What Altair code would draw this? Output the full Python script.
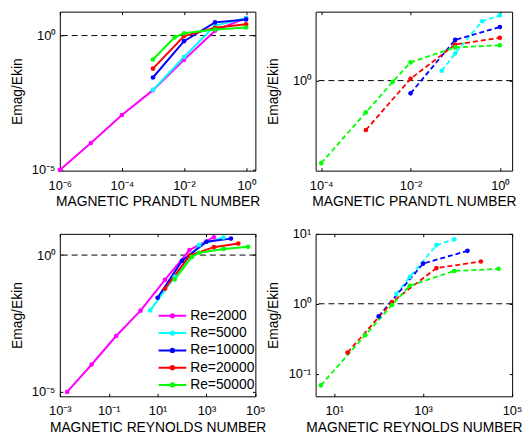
import altair as alt
import pandas as pd

# ---------------- data ----------------
series_names = ["Re=2000", "Re=5000", "Re=10000", "Re=20000", "Re=50000"]
re_numbers = [2000, 5000, 10000, 20000, 50000]
series_colors = ["#ff00ff", "#00ffff", "#0000ff", "#ff0000", "#00ff00"]

# left column (solid lines): magnetic Prandtl number and Emag/Ekin
pm_solid_2000 = [1e-6, 1e-5, 1e-4, 1e-3, 1e-2, 1e-1, 1.0]
em_solid_2000 = [1.0e-5, 1.0e-4, 1.1e-3, 9.3e-3, 0.125, 1.52, 4.5]
pm_solid_5000 = [1e-3, 1e-2, 1e-1, 1.0]
em_solid_5000 = [9.5e-3, 0.16, 2.35, 4.4]
pm_solid_10000 = [1e-3, 1e-2, 1e-1, 1.0]
em_solid_10000 = [0.0275, 0.62, 3.1, 4.0]
pm_solid_20000 = [1e-3, 1e-2, 1e-1, 1.0]
em_solid_20000 = [0.059, 0.955, 1.95, 2.65]
pm_solid_50000 = [1e-3, 5e-3, 1e-2, 1e-1, 1.0]
em_solid_50000 = [0.129, 0.86, 1.22, 1.68, 2.0]

# right column (dashed lines)
pm_dash_5000 = [0.05, 0.1, 0.4, 1.0]
em_dash_5000 = [1.38, 2.42, 6.9, 8.36]
pm_dash_10000 = [1e-2, 1e-1, 1.0]
em_dash_10000 = [0.66, 3.76, 5.73]
pm_dash_20000 = [1e-3, 1e-2, 1e-1, 1.0]
em_dash_20000 = [0.2, 1.06, 3.24, 4.03]
pm_dash_50000 = [1e-4, 1e-3, 4e-3, 1e-2, 1e-1, 1.0]
em_dash_50000 = [0.068, 0.355, 0.96, 1.81, 2.95, 3.16]

ref_level = [1.0]

# tick values
xticks_tl = [1e-6, 1e-4, 1e-2, 1.0]
yticks_tl = [1e-5, 1.0]
xticks_tr = [1e-4, 1e-2, 1.0]
yticks_tr = [1.0]
xticks_bl = [1e-3, 1e-1, 1e1, 1e3, 1e5]
yticks_bl = [1e-5, 1.0]
xticks_br = [1e1, 1e3, 1e5]
yticks_br = [1e-1, 1.0, 1e1]


def build(groups, use_rm):
    rows = []
    for name, pm, em in groups:
        re = re_numbers[series_names.index(name)]
        for p, v in zip(pm, em):
            rows.append({"series": name, "x": p * re if use_rm else p, "y": v})
    return pd.DataFrame(rows)


solid_groups = [
    ("Re=2000", pm_solid_2000, em_solid_2000),
    ("Re=5000", pm_solid_5000, em_solid_5000),
    ("Re=10000", pm_solid_10000, em_solid_10000),
    ("Re=20000", pm_solid_20000, em_solid_20000),
    ("Re=50000", pm_solid_50000, em_solid_50000),
]
dash_groups = [
    ("Re=5000", pm_dash_5000, em_dash_5000),
    ("Re=10000", pm_dash_10000, em_dash_10000),
    ("Re=20000", pm_dash_20000, em_dash_20000),
    ("Re=50000", pm_dash_50000, em_dash_50000),
]

df_tl = build(solid_groups, False)
df_bl = build(solid_groups, True)
df_tr = build(dash_groups, False)
df_br = build(dash_groups, True)
ref_df = pd.DataFrame({"y": ref_level})

FONT = "Liberation Sans"
SUP = "['\u2070','\u00b9','\u00b2','\u00b3','\u2074','\u2075','\u2076','\u2077','\u2078','\u2079']"
LABEL_EXPR = ("'10' + (round(log(datum.value)/LN10) < 0 ? '\u207b' : '') + "
              + SUP + "[abs(round(log(datum.value)/LN10))]")

# legend glyph: a line segment with a dot in the middle (wider than the unit box)
LEG_PATH = "M-2,0H2M0.24,0A0.24,0.24,0,1,1,-0.24,0A0.24,0.24,0,1,1,0.24,0Z"
TICK = 3


def x_axis(vals, title):
    return alt.Axis(values=vals, labelExpr=LABEL_EXPR, title=title, grid=False,
                    ticks=True, tickSize=TICK, offset=-TICK, tickColor="black", tickWidth=1,
                    domain=False, labelPadding=18.6,
                    labelBaseline="alphabetic", labelFontSize=13, labelFont=FONT,
                    labelColor="black", labelFlush=False, labelOverlap=False,
                    titleY=35.6 + TICK, titleBaseline="alphabetic", titleFontSize=14,
                    titleFont=FONT, titleFontWeight="normal", titleColor="black")


def y_axis(vals):
    return alt.Axis(values=vals, labelExpr=LABEL_EXPR, title="Emag/Ekin", grid=False,
                    ticks=True, tickSize=TICK, offset=-TICK, tickColor="black", tickWidth=1,
                    domain=False, labelPadding=5,
                    labelFontSize=13, labelFont=FONT, labelColor="black",
                    labelFlush=False, labelOverlap=False,
                    titleX=-38.6 - TICK, titleBaseline="alphabetic", titleFontSize=14,
                    titleFont=FONT, titleFontWeight="normal", titleColor="black")


def mirror_axis(vals, orient):
    return alt.Axis(values=vals, orient=orient, labels=False, title=None, grid=False,
                    ticks=True, tickSize=TICK, offset=-TICK, tickColor="black", tickWidth=1,
                    domain=False)


def panel(df, xdom, ydom, xticks, yticks, xtitle, w, h, dashed, legend):
    xs = alt.Scale(type="log", domain=xdom, nice=False)
    ys = alt.Scale(type="log", domain=ydom, nice=False)
    ce = alt.Color("series:N", scale=alt.Scale(domain=series_names, range=series_colors),
                   legend=legend)
    rule = alt.Chart(ref_df).mark_rule(color="black", strokeDash=[6, 4],
                                       strokeWidth=1).encode(
        y=alt.Y("y:Q", scale=ys, axis=None))
    kw = dict(strokeWidth=2)
    if dashed:
        kw = dict(strokeWidth=1.8, strokeDash=[5, 3])
    lines = alt.Chart(df).mark_line(**kw).encode(
        x=alt.X("x:Q", scale=xs, axis=x_axis(xticks, xtitle)),
        y=alt.Y("y:Q", scale=ys, axis=y_axis(yticks)),
        color=ce)
    pts = alt.Chart(df).mark_circle(size=22, opacity=1).encode(
        x=alt.X("x:Q", scale=xs, axis=mirror_axis(xticks, "top")),
        y=alt.Y("y:Q", scale=ys, axis=mirror_axis(yticks, "right")),
        color=ce)
    return alt.layer(rule, lines, pts).resolve_axis(
        x="independent", y="independent").properties(width=w, height=h)


legend_bl = alt.Legend(orient="none", legendX=106, legendY=75, title=None,
                       symbolType=LEG_PATH, symbolSize=196, symbolStrokeWidth=2,
                       labelFontSize=14, labelFont=FONT, labelColor="black",
                       labelOffset=10, rowPadding=2.5, padding=0)

tl = panel(df_tl, [1e-6, 10 ** 0.30], [10 ** -5.029, 10 ** 0.890], xticks_tl, yticks_tl,
           "MAGNETIC PRANDTL NUMBER", 198, 161, False, None)
tr = panel(df_tr, [10 ** -4.126, 10 ** 0.276], [10 ** -1.274, 10 ** 0.975], xticks_tr, yticks_tr,
           "MAGNETIC PRANDTL NUMBER", 199, 161, True, None)
bl = panel(df_bl, [1e-3, 1e5], [10 ** -5.162, 10 ** 0.776], xticks_bl, yticks_bl,
           "MAGNETIC REYNOLDS NUMBER", 198, 164.5, False, legend_bl)
br = panel(df_br, [10 ** 0.582, 10 ** 5.004], [10 ** -1.325, 10 ** 1.001], xticks_br, yticks_br,
           "MAGNETIC REYNOLDS NUMBER", 199, 164.5, True, None)

chart = alt.concat(tl, tr, bl, br, columns=2, spacing={"row": 64, "column": 61},
                   bounds="flush").resolve_scale(
    color="independent"
).properties(
    padding={"left": 1.5, "top": 0, "right": 0, "bottom": 0},
    background="white",
).configure_view(stroke="black", strokeWidth=1)

chart.save("out.html", embed_options={"renderer": "svg", "actions": False})
